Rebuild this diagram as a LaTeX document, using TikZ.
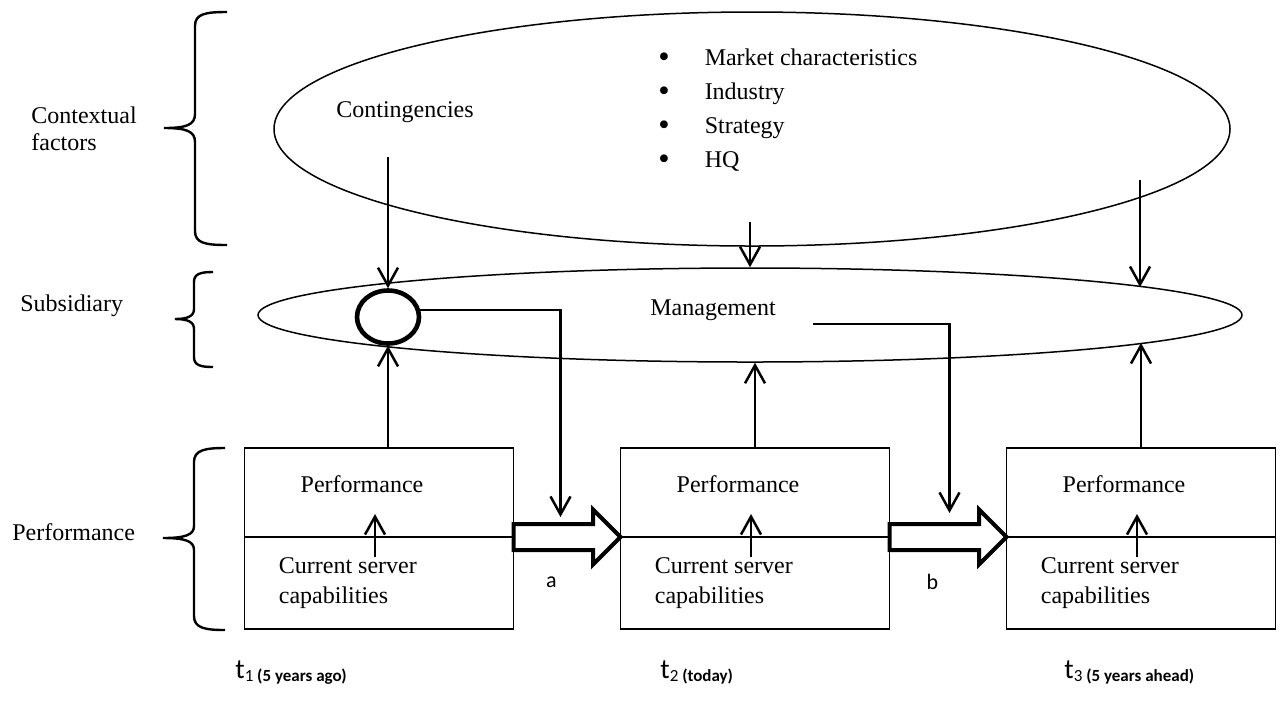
\documentclass[tikz,border=0pt]{standalone}
\usepackage{fontspec}
\setmainfont{Liberation Serif}
\newfontfamily\calibri{Carlito}
\usetikzlibrary{arrows.meta,shapes.geometric,shapes.arrows,calc,positioning}
\tikzset{halfbox/.style={draw, line width=0.65pt, minimum width=134.5pt, inner sep=0pt, outer sep=0pt}}
\tikzset{bubble/.style={ellipse, draw, line width=0.75pt, inner sep=0pt}}
\tikzset{textlbl/.style={inner sep=0pt, align=left}}
\tikzset{blockarrow/.style={single arrow, draw, fill=white, line width=2pt, inner xsep=0pt, inner ysep=5.5pt, single arrow head extend=7.25pt, anchor=tail, outer sep=0pt}}
\tikzset{tstamp/.style={inner sep=0pt, font=\calibri\fontsize{14}{16}\selectfont}}
\tikzstyle{arrow} = [line width=1.25pt, -{Straight Barb[length=9pt,width=10pt]}]
\tikzstyle{curly} = [line width=1.2pt]
\newcommand{\blob}{\raisebox{-1pt}{\scalebox{1.35}{\textbullet}}\hspace{17.5pt}}

\begin{document}
\begin{tikzpicture}[x=0.5pt, y=-0.5pt, font=\fontsize{12}{14}\selectfont]
	\useasboundingbox (0,0) rectangle (1283,720);
	% Nodes
		\node (context) [bubble, minimum width=478pt, minimum height=117pt] at (752,129) {};
		\node (mgmt) [bubble, minimum width=492pt, minimum height=47pt] at (750,315) {};
		\node (hub) [ellipse, draw, line width=2.3pt, fill=white, minimum width=31pt, minimum height=26.5pt, inner sep=0pt] at (388,317) {};

		\node (cont) [textlbl] at (405,112) {Contingencies};
		\node (drivers) [textlbl, anchor=west, font=\fontsize{12}{17}\selectfont] at (658,110)
			{\blob Market characteristics\\ \blob Industry\\ \blob Strategy\\ \blob HQ};
		\node (mtext) [textlbl] at (713,310) {Management};

		\node (lctx) [textlbl, anchor=west, font=\fontsize{12}{13.5}\selectfont] at (31,129) {Contextual\\factors};
		\node (lsub) [textlbl, anchor=west] at (20,306) {Subsidiary};
		\node (lperf) [textlbl, anchor=west] at (12,532) {Performance};

		\node (top1) [halfbox, minimum height=44.5pt] at (379,492.5) {};
		\node (low1) [halfbox, minimum height=46pt, below=0pt of top1] {};
		\node (top2) [halfbox, minimum height=44.5pt] at (755,492.5) {};
		\node (low2) [halfbox, minimum height=46pt, below=0pt of top2] {};
		\node (top3) [halfbox, minimum height=44.5pt] at (1141,492.5) {};
		\node (low3) [halfbox, minimum height=46pt, below=0pt of top3] {};

		\node (perf1) [textlbl] at ($(top1.center)+(-17,-8)$) {Performance};
		\node (perf2) [textlbl] at ($(top2.center)+(-17,-8)$) {Performance};
		\node (perf3) [textlbl] at ($(top3.center)+(-17,-8)$) {Performance};
		\node (cap1) [textlbl, anchor=west, font=\fontsize{12}{15}\selectfont] at ($(low1.west)+(34,0)$) {Current server\\capabilities};
		\node (cap2) [textlbl, anchor=west, font=\fontsize{12}{15}\selectfont] at ($(low2.west)+(34,0)$) {Current server\\capabilities};
		\node (cap3) [textlbl, anchor=west, font=\fontsize{12}{15}\selectfont] at ($(low3.west)+(34,0)$) {Current server\\capabilities};

		\node (arra) [blockarrow, minimum height=53.5pt] at (low1.north east) {};
		\node (arrb) [blockarrow, minimum height=58.5pt] at (low2.north east) {};
		\node (la) [textlbl, font=\calibri\fontsize{11}{13}\selectfont] at ($(arra.center)+(-9,45)$) {a};
		\node (lb) [textlbl, font=\calibri\fontsize{11}{13}\selectfont] at ($(arrb.center)+(-9,45)$) {b};

		\node (t1) [tstamp, anchor=base west] at (235,678) {t\raisebox{-1.5pt}{\fontsize{8.5}{10}\selectfont 1 \textbf{(5 years ago)}}};
		\node (t2) [tstamp, anchor=base west] at (660,678) {t\raisebox{-1.5pt}{\fontsize{8.5}{10}\selectfont 2 \textbf{(today)}}};
		\node (t3) [tstamp, anchor=base west] at (1064,678) {t\raisebox{-1.5pt}{\fontsize{8.5}{10}\selectfont 3 \textbf{(5 years ahead)}}};

		\coordinate (dropA) at (388,157);
		\coordinate (dropB) at (750,222);
		\coordinate (dropC) at (1140,180);
		\coordinate (mfrom) at (813,324);

	% Braces
		\draw[curly] (227,12) .. controls (205,12) and (195,14) .. (195,26) -- (195,114) .. controls (195,125) and (186,128) .. (164,128)
			.. controls (186,128) and (195,131) .. (195,142) -- (195,231) .. controls (195,243) and (205,245) .. (227,245);
		\draw[curly] (213,272) .. controls (200,272) and (194,274) .. (194,282) -- (194,309) .. controls (194,316) and (188,319) .. (175,319)
			.. controls (188,319) and (194,322) .. (194,329) -- (194,357) .. controls (194,365) and (200,367) .. (213,367);
		\draw[curly] (225,448) .. controls (205,448) and (194,450) .. (194,462) -- (194,526) .. controls (194,535) and (185,538) .. (163,538)
			.. controls (185,538) and (194,541) .. (194,550) -- (194,616) .. controls (194,628) and (205,630) .. (225,630);

	% Connectors
	\begin{scope}
		\draw [arrow] (dropA) -- (hub.north);
		\draw [arrow] (dropB) -- (mgmt.north);
		\draw [arrow] (dropC) -- (dropC |- mgmt.4);

		\draw [arrow] (top1.north -| hub.south) -- (hub.south);
		\draw [arrow] (top2.north) -- (top2.north |- mgmt.south);
		\draw [arrow] (top3.north) -- (top3.north |- mgmt.-4);

		\draw [arrow] (hub.12) -| ($(arra.center)+(0,-20)$);
		\draw [arrow] (mfrom) -| ($(arrb.center)+(8,-24)$);

		\draw [arrow] ($(low1.north)+(-4,20)$) -- ($(low1.north)+(-4,-23)$);
		\draw [arrow] ($(low2.north)+(-4,20)$) -- ($(low2.north)+(-4,-23)$);
		\draw [arrow] ($(low3.north)+(-4,20)$) -- ($(low3.north)+(-4,-23)$);
	\end{scope}

\end{tikzpicture}
\end{document}
